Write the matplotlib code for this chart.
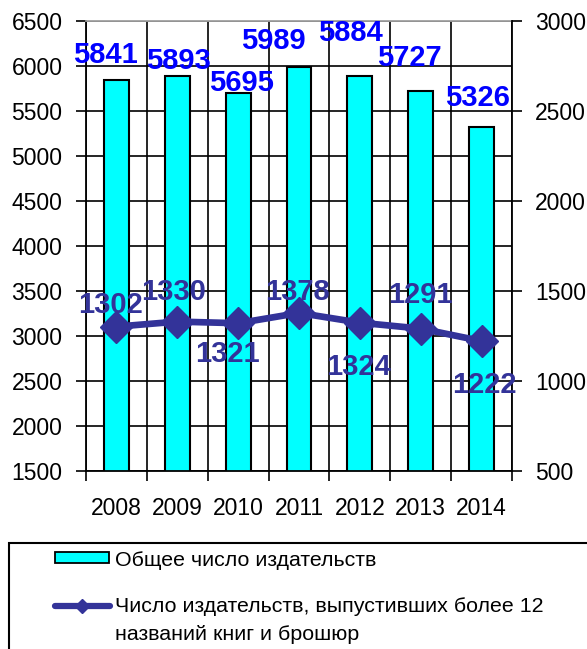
import numpy as np
import matplotlib
matplotlib.use('Agg')
import matplotlib.pyplot as plt
from matplotlib.patches import Rectangle
from matplotlib.lines import Line2D

# Data
years = ['2008', '2009', '2010', '2011', '2012', '2013', '2014']
total_publishers = [5841, 5893, 5695, 5989, 5884, 5727, 5326]
big_publishers = [1302, 1330, 1321, 1378, 1324, 1291, 1222]

# Label offsets (pixels) picked to match the original hand placement
bar_label_offsets = [(-11, 25), (1, 15), (3, 10), (-26, 26), (-9, 43), (-11, 33), (-4, 29)]
line_label_offsets = [(-6, 22), (-4, 30), (-11, -31), (-2, 21), (-1, -44), (0, 34), (3, -44)]

plt.rcParams['font.family'] = ['Liberation Sans', 'DejaVu Sans']

W, H = 587, 649
fig = plt.figure(figsize=(W / 100, H / 100), dpi=100)
ax = fig.add_axes([86 / W, 1 - 471 / H, (512 - 86) / W, (471 - 21) / H])

x = np.arange(len(years))
ax.bar(x, total_publishers, width=0.41, color='#00FFFF', edgecolor='black',
       linewidth=1.5, zorder=2)

ax.set_xlim(-0.5, len(years) - 0.5)
ax.set_ylim(1500, 6500)
ax.set_yticks(np.arange(1500, 6501, 500))
ax.set_xticks(np.arange(-0.5, len(years), 1.0))
ax.set_xticklabels([])
ax.set_xticks(x, minor=True)
ax.set_xticklabels(years, minor=True)
ax.grid(True, color='black', linewidth=1.2, zorder=0)
ax.set_axisbelow(True)

ax.tick_params(axis='y', direction='out', length=7, width=1.2, labelsize=16.5, pad=10)
ax.tick_params(axis='x', which='major', direction='out', length=7, width=1.2)
ax.tick_params(axis='x', which='minor', length=0, labelsize=16.5, pad=18.5)
for s in ['left', 'bottom']:
    ax.spines[s].set_linewidth(1.3)
ax.spines['top'].set_color('#a0a0a0')
ax.spines['top'].set_linewidth(1.3)
ax.spines['right'].set_visible(False)

for xi, v, (dx, dy) in zip(x, total_publishers, bar_label_offsets):
    ax.annotate(str(v), (xi, v), xytext=(dx, dy), textcoords='offset pixels',
                ha='center', va='center', fontsize=21, fontweight='bold',
                color='#0000FF', zorder=5)

ax2 = ax.twinx()
ax2.set_ylim(500, 3000)
ax2.set_yticks(np.arange(500, 3001, 500))
ax2.plot(x, big_publishers, color='#333399', linewidth=4.8, marker='D',
         markersize=16, zorder=3)
ax2.tick_params(axis='y', direction='out', length=7, width=1.2, labelsize=16.5, pad=9.5)
ax2.spines['right'].set_linewidth(1.3)
ax2.spines['top'].set_visible(False)
ax2.spines['left'].set_visible(False)
ax2.spines['bottom'].set_visible(False)

for xi, v, (dx, dy) in zip(x, big_publishers, line_label_offsets):
    ax2.annotate(str(v), (xi, v), xytext=(dx, dy), textcoords='offset pixels',
                 ha='center', va='center', fontsize=21, fontweight='bold',
                 color='#333399', zorder=5)

# Legend box below the chart
def fx(px):
    return px / W

def fy(py):
    return 1 - py / H

fig.add_artist(Rectangle((fx(9), fy(660)), fx(600) - fx(9), fy(543) - fy(660),
                         transform=fig.transFigure, facecolor='white',
                         edgecolor='black', linewidth=1.5))
fig.add_artist(Rectangle((fx(55), fy(563)), fx(109) - fx(55), fy(552) - fy(563),
                         transform=fig.transFigure, facecolor='#00FFFF',
                         edgecolor='black', linewidth=1.3))
fig.text(fx(115), fy(561), 'Общее число издательств', fontsize=15.4,
         ha='left', va='center')
fig.add_artist(Line2D([fx(55), fx(110)], [fy(606), fy(606)], transform=fig.transFigure,
                      color='#333399', linewidth=4.5, solid_capstyle='round'))
fig.add_artist(Line2D([fx(82)], [fy(606)], transform=fig.transFigure,
                      color='#333399', marker='D', markersize=7))
fig.text(fx(115), fy(606), 'Число издательств, выпустивших более 12',
         fontsize=15.4, ha='left', va='center')
fig.text(fx(115), fy(635), 'названий книг и брошюр', fontsize=15.4,
         ha='left', va='center')

fig.savefig('out.png', dpi=100)
